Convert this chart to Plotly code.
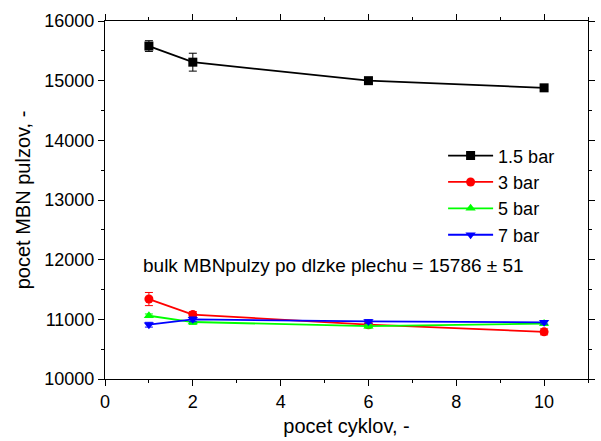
import plotly.graph_objects as go

cycles = [1, 2, 6, 10]
names = ["1.5 bar", "3 bar", "5 bar", "7 bar"]
values = {
    "1.5 bar": [15580, 15310, 15000, 14880],
    "3 bar": [11340, 11080, 10910, 10790],
    "5 bar": [11060, 10955, 10885, 10930],
    "7 bar": [10910, 11000, 10965, 10950],
}
errors = {
    "1.5 bar": [90, 150, 50, 30],
    "3 bar": [110, 50, 30, 50],
    "5 bar": [30, 40, 30, 30],
    "7 bar": [40, 40, 30, 30],
}
colors = {"1.5 bar": "#000000", "3 bar": "#ff0000", "5 bar": "#00ff00", "7 bar": "#0000ff"}
symbols = {"1.5 bar": "square", "3 bar": "circle", "5 bar": "triangle-up", "7 bar": "triangle-down"}
annotation_text = "bulk MBNpulzy po dlzke plechu = 15786 \u00b1 51"

FONT = "Liberation Sans, Arial"
X_RANGE = [0, 11]
Y_RANGE = [10000, 16000]

fig = go.Figure()
for n in names:
    fig.add_trace(go.Scatter(
        x=cycles, y=values[n], name=n, mode="lines+markers",
        line=dict(color=colors[n], width=1.8),
        marker=dict(symbol=symbols[n], size=9, color=colors[n]),
        error_y=dict(type="data", array=errors[n], color=colors[n], thickness=1, width=4),
    ))

tick_common = dict(
    showline=True, linecolor="black", linewidth=1, mirror="allticks",
    ticks="outside", ticklen=6, tickcolor="black", tickwidth=1.2,
    showgrid=False, zeroline=False, tickformat="d",
    tickfont=dict(family=FONT, size=18, color="black"),
)
xminor = dict(dtick=1, ticks="outside", ticklen=3, tickcolor="black", tickwidth=1.2, showgrid=False)
yminor = dict(dtick=500, ticks="outside", ticklen=3, tickcolor="black", tickwidth=1.2, showgrid=False)

fig.update_layout(
    xaxis=dict(range=X_RANGE, tick0=0, dtick=2, minor=xminor,
               title=dict(text="pocet cyklov, -", font=dict(family=FONT, size=20, color="black"), standoff=8),
               **tick_common),
    yaxis=dict(range=Y_RANGE, tick0=10000, dtick=1000, minor=yminor,
               title=dict(text="pocet MBN pulzov, -", font=dict(family=FONT, size=20, color="black"), standoff=8),
               **tick_common),
)

fig.add_annotation(x=0.82, y=11894, xref="x", yref="y", text=annotation_text,
                   showarrow=False, xanchor="left", yanchor="middle",
                   font=dict(family=FONT, size=19, color="black"))

fig.update_layout(
    width=601, height=441,
    margin=dict(l=105, r=6, t=21, b=62),
    plot_bgcolor="white", paper_bgcolor="white",
    legend=dict(x=0.70, y=0.675, xanchor="left", yanchor="top",
                font=dict(family=FONT, size=18, color="black"),
                itemwidth=45, tracegroupgap=0, bgcolor="rgba(0,0,0,0)"),
)
fig.write_html("out.html")
